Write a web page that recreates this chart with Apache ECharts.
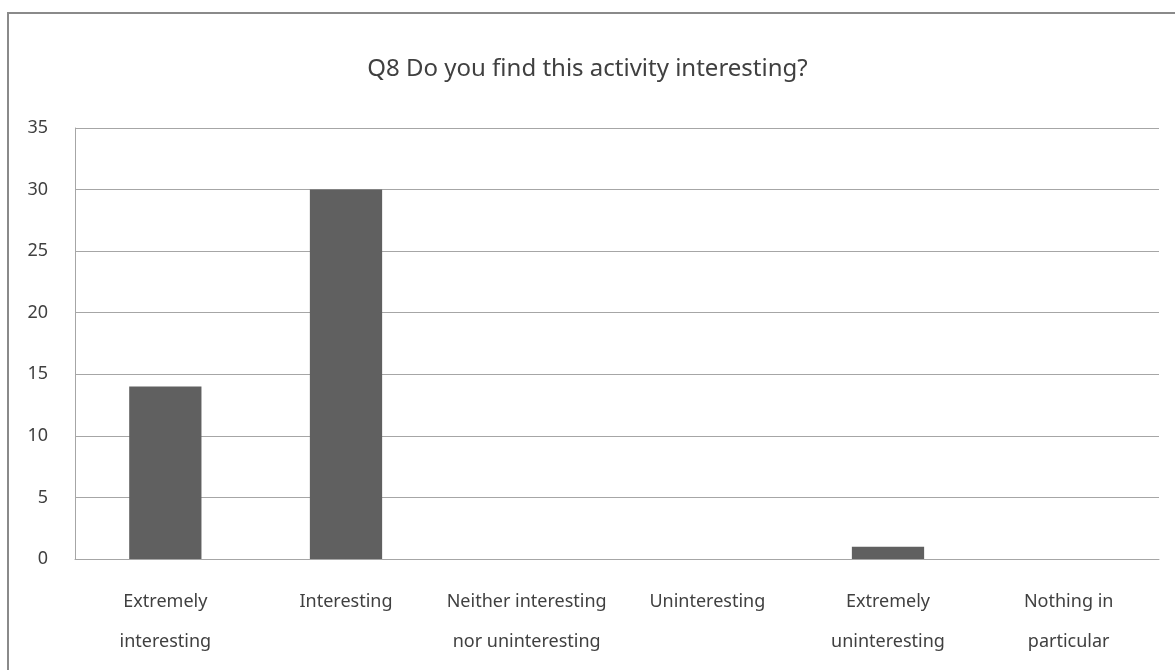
<!DOCTYPE html>
<html>
<head>
<meta charset="utf-8">
<script src="https://cdn.jsdelivr.net/npm/echarts@6/dist/echarts.min.js"></script>
<style>
  html, body { margin: 0; padding: 0; background: #fff; }
  #chart { width: 1175px; height: 670px; }
</style>
</head>
<body>
<div id="chart"></div>
<script>
// Survey responses for Q8
const titleText = 'Q8 Do you find this activity interesting?';
const categories = [
  'Extremely\ninteresting',
  'Interesting',
  'Neither interesting\nnor uninteresting',
  'Uninteresting',
  'Extremely\nuninteresting',
  'Nothing in\nparticular'
];
const counts = [14, 30, 0, 0, 1, 0];
const yMin = 0, yMax = 35, yStep = 5;

const chart = echarts.init(document.getElementById('chart'));
const textColor = '#404040';
const fontFamily = '"Noto Sans", "Open Sans", sans-serif';

chart.setOption({
  backgroundColor: '#ffffff',
  animation: false,
  graphic: [{
    type: 'rect',
    shape: { x: 8, y: 13, width: 1300, height: 800 },
    style: { fill: 'none', stroke: '#8a8a8a', lineWidth: 2 },
    silent: true
  }],
  title: {
    text: titleText,
    left: 'center',
    top: 52,
    textStyle: { color: textColor, fontSize: 24, fontWeight: 'normal', fontFamily }
  },
  grid: { left: 75, right: 16, top: 128, bottom: 111 },
  xAxis: {
    type: 'category',
    data: categories,
    axisLine: { show: true, lineStyle: { color: '#a6a6a6', width: 1 } },
    axisTick: { show: false },
    axisLabel: {
      color: textColor, fontSize: 18, fontFamily,
      lineHeight: 40, margin: 23, interval: 0
    }
  },
  yAxis: {
    type: 'value',
    min: yMin, max: yMax, interval: yStep,
    axisLine: { show: true, lineStyle: { color: '#a6a6a6', width: 1 } },
    axisTick: { show: false },
    axisLabel: { color: textColor, fontSize: 18, fontFamily, margin: 27 },
    splitLine: { lineStyle: { color: '#a6a6a6', width: 1 } }
  },
  series: [{
    type: 'bar',
    data: counts,
    barWidth: '40%',
    itemStyle: { color: '#606060' }
  }]
});
</script>
</body>
</html>
